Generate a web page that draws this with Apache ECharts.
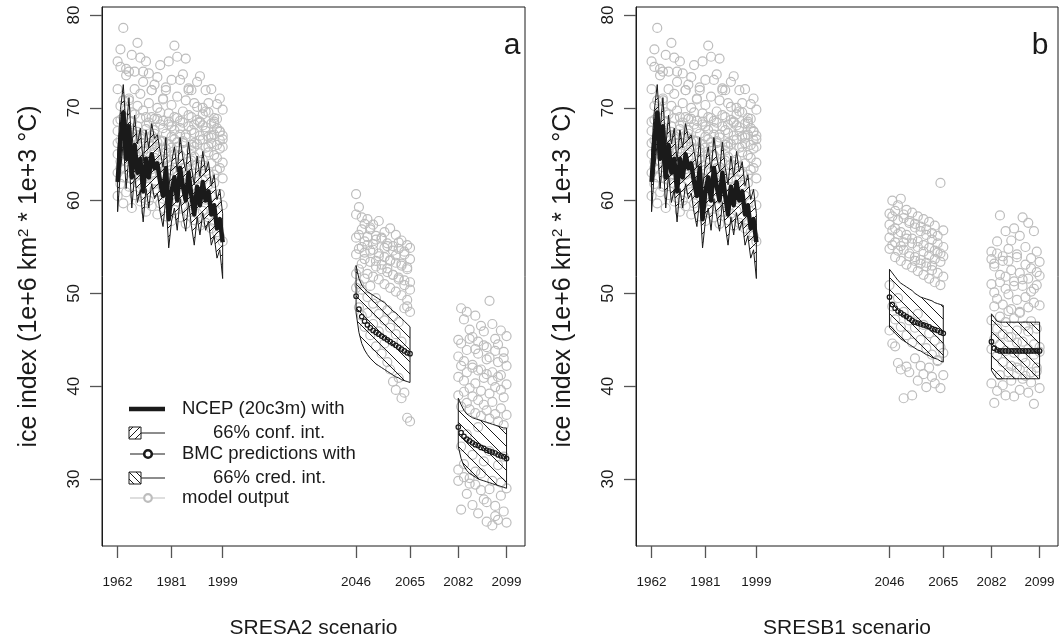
<!DOCTYPE html>
<html>
<head>
<meta charset="utf-8">
<script src="https://cdn.jsdelivr.net/npm/echarts@6/dist/echarts.min.js"></script>
<style>html,body{margin:0;padding:0;background:#fff}#c{width:1059px;height:639px}</style>
</head>
<body>
<div id="c"></div>
<script>
// ---------------- DATA ----------------
const histYears = [1962,1963,1964,1965,1966,1967,1968,1969,1970,1971,1972,1973,1974,1975,1976,1977,1978,1979,1980,1981,1982,1983,1984,1985,1986,1987,1988,1989,1990,1991,1992,1993,1994,1995,1996,1997,1998,1999];
const midYears = [2046,2047,2048,2049,2050,2051,2052,2053,2054,2055,2056,2057,2058,2059,2060,2061,2062,2063,2064,2065];
const endYears = [2082,2083,2084,2085,2086,2087,2088,2089,2090,2091,2092,2093,2094,2095,2096,2097,2098,2099];
const xTickYears = [1962,1981,1999,2046,2065,2082,2099];
const yTicks = [30,40,50,60,70,80];
const xTitles = ['SRESA2 scenario','SRESB1 scenario'];
const panelLetters = ['a','b'];
const yTitle = 'ice index (1e+6 km{sup|2} * 1e+3 °C)';

// NCEP reanalysis ice index with 66% confidence interval
const ncep   = [62.0,66.5,69.5,64.5,68.0,62.5,66.0,63.0,64.5,61.0,64.5,62.5,65.0,63.5,64.0,62.0,60.5,63.5,58.0,61.0,62.5,60.0,63.5,61.5,60.0,63.0,60.5,58.5,61.5,59.5,62.0,60.0,61.0,58.5,59.5,57.0,58.0,55.5];
const ncepHi = [65.2,69.8,72.5,67.6,71.1,65.7,69.2,66.1,67.8,64.2,67.6,65.7,68.3,66.7,67.1,65.3,63.6,66.8,61.2,64.1,65.8,63.1,66.8,64.6,63.2,66.3,63.6,61.7,64.8,62.6,65.3,63.1,64.2,61.6,62.8,60.1,61.2,58.6];
const ncepLo = [58.8,63.2,66.3,61.3,64.8,59.2,62.8,59.8,61.2,57.7,61.3,59.2,61.8,60.2,60.8,58.7,57.2,60.3,54.9,57.8,59.2,56.8,60.2,58.3,56.7,59.8,57.3,55.2,58.2,56.3,58.7,56.8,57.8,55.2,56.2,53.8,54.7,51.6];

// model output 20c3m (same in both panels)
const histModels = [
 [75.0,76.3,78.6,74.2,73.9,75.7,72.0,77.0,75.4,73.9,75.0,73.7,71.9,72.5,73.3,74.6,71.0,72.2,75.0,73.0,76.7,75.5,73.0,73.6,75.3,72.1,71.9,70.5,72.8,73.4,70.0,71.9,69.5,72.0,68.5,70.4,71.0,69.8],
 [72.0,74.4,70.8,73.5,71.0,69.5,73.9,70.2,71.5,72.8,69.0,70.5,71.9,68.8,70.0,68.2,70.9,71.9,68.5,70.3,69.0,71.2,67.8,69.6,70.8,71.9,69.0,68.2,70.1,68.5,69.3,67.5,70.5,66.8,68.9,67.8,66.5,67.0],
 [67.5,68.7,66.0,69.8,67.9,68.5,66.8,67.4,68.9,66.2,67.7,68.4,65.9,67.2,68.8,66.5,67.8,65.6,68.2,66.9,67.6,65.8,68.6,66.4,67.1,68.0,65.4,67.3,66.1,68.4,66.6,67.9,65.2,67.0,68.3,66.0,67.4,65.8],
 [65.0,66.5,67.8,64.2,66.0,67.3,65.5,64.8,66.7,65.3,64.1,66.2,67.0,64.6,65.8,64.0,66.4,65.2,63.8,65.7,64.5,66.3,64.9,63.5,65.4,64.2,66.0,64.7,63.9,65.1,64.4,63.2,65.8,64.0,62.8,64.6,63.5,62.4],
 [63.0,64.2,62.5,65.1,63.6,62.3,64.0,63.2,61.8,63.9,62.6,61.5,63.4,62.1,60.9,62.8,63.5,61.2,62.4,60.6,62.0,63.1,61.0,61.9,62.7,60.4,61.6,62.9,60.8,61.4,62.2,60.1,61.7,60.5,61.9,59.8,60.7,59.5],
 [60.5,61.8,59.7,60.9,61.5,59.2,60.6,61.9,59.9,60.3,58.8,60.0,59.4,61.2,58.5,59.7,60.2,58.3,59.6,57.8,59.0,59.9,58.2,59.3,57.5,58.8,59.5,57.9,58.6,57.3,58.9,57.6,58.2,57.0,57.7,56.6,56.2,55.6],
 [68.5,70.2,69.0,67.2,70.8,66.9,69.3,68.0,67.0,69.7,68.1,66.7,69.0,67.6,66.3,69.5,68.6,67.2,69.4,68.0,66.6,68.9,67.1,68.4,66.8,69.2,67.6,66.2,68.7,67.0,68.1,69.6,66.9,68.3,67.1,68.8,67.5,66.6],
 [66.2,63.5,65.4,66.8,64.7,65.9,63.1,66.0,64.4,67.1,65.6,64.3,62.8,65.2,63.7,66.4,62.9,64.5,66.1,63.3,65.0,62.6,64.8,66.2,63.6,62.9,64.3,65.8,62.4,66.5,63.8,65.7,62.9,66.2,64.9,63.3,65.6,64.1]
];

// SRESA2 model output
const a2MidModels = [
 [60.7,59.3,58.2,57.5,58.0,56.9,57.4,56.2,57.8,55.9,56.6,55.4,57.0,55.1,56.3,54.8,55.7,54.5,55.2,54.9],
 [58.5,56.3,56.9,55.6,55.2,57.1,54.7,55.8,54.3,56.0,53.9,55.1,53.6,54.6,53.3,55.5,53.0,54.2,52.8,53.7],
 [56.0,54.8,55.0,53.7,56.1,53.4,55.3,52.9,54.0,52.6,54.9,52.3,53.5,52.0,54.1,51.7,53.2,51.4,52.6,51.2],
 [54.2,52.6,53.2,54.4,52.1,54.6,51.8,53.5,51.5,53.1,51.0,52.7,50.6,52.0,50.2,51.5,49.8,50.9,49.3,50.4],
 [52.1,51.0,50.4,51.6,49.6,50.8,48.9,49.5,47.8,48.7,47.1,48.2,46.3,47.5,45.6,46.9,44.8,48.4,48.6,48.0],
 [50.6,48.5,47.6,46.4,47.9,45.5,46.7,44.3,45.9,43.5,44.6,42.6,41.8,40.5,39.6,40.9,38.7,39.3,36.6,36.2]
];
const a2EndModels = [
 [45.0,48.4,47.2,48.0,46.1,45.3,47.6,44.8,46.5,45.9,44.2,49.2,46.7,45.1,44.5,46.0,43.7,45.4],
 [43.2,44.6,42.7,43.9,45.1,42.3,44.0,43.5,41.8,44.4,42.9,43.1,41.5,43.8,42.6,41.2,43.0,42.2],
 [41.0,42.2,40.6,41.5,39.8,42.0,40.3,41.7,39.5,40.9,41.3,39.2,40.6,39.9,41.0,39.6,38.8,40.2],
 [39.0,37.8,39.4,38.2,37.5,38.9,37.1,38.5,36.8,38.0,37.4,36.5,38.3,37.0,36.2,37.6,35.8,36.9],
 [31.0,33.5,30.2,34.8,29.5,32.6,30.8,35.6,28.8,31.9,27.5,33.0,29.8,26.0,31.5,28.2,32.4,29.0],
 [29.8,26.7,31.6,28.4,30.1,27.2,29.4,26.3,30.6,27.8,25.4,28.9,25.0,27.1,25.6,29.6,26.5,25.3]
];
// SRESB1 model output
const b1MidModels = [
 [58.6,60.0,58.9,59.5,60.2,58.1,59.0,57.8,58.7,57.5,58.3,57.2,58.0,56.9,57.7,56.5,57.3,56.2,61.9,56.8],
 [57.4,58.3,57.0,57.9,56.6,58.5,56.3,57.6,55.9,57.1,55.6,56.7,55.2,56.3,54.9,55.8,54.6,55.4,54.3,55.0],
 [56.0,56.8,55.5,56.4,55.1,54.7,55.9,54.3,55.4,53.9,55.0,53.6,54.5,53.3,54.1,53.0,53.7,54.4,53.4,54.0],
 [54.8,55.2,53.9,54.6,53.5,55.5,53.1,54.0,52.8,53.5,52.4,53.2,52.0,52.9,51.6,52.5,51.2,52.2,50.9,51.8],
 [50.9,48.6,47.2,49.5,46.4,48.0,45.5,47.1,44.7,46.3,47.8,45.0,46.6,44.1,45.7,43.4,44.9,42.8,44.2,43.6],
 [46.0,44.6,44.3,42.5,41.8,38.7,42.1,41.5,39.0,43.0,40.6,42.2,41.3,39.9,42.0,41.0,40.3,42.7,39.8,41.2]
];
const b1EndModels = [
 [54.5,53.2,55.6,58.4,54.0,56.7,53.5,55.7,57.0,54.2,56.2,58.2,55.0,57.6,53.8,56.7,54.5,53.4],
 [53.7,52.9,54.3,52.0,53.5,51.8,54.8,52.5,51.3,53.9,52.2,50.8,53.1,51.6,52.7,50.5,52.3,51.9],
 [51.0,50.1,49.4,51.2,48.8,50.5,49.9,48.3,50.8,49.3,48.0,51.5,49.6,48.5,50.2,49.0,50.9,48.7],
 [47.1,48.6,46.2,47.5,45.6,46.9,48.1,45.3,47.3,46.0,47.9,44.8,46.5,45.9,47.0,44.5,46.2,44.2],
 [44.0,45.1,43.3,44.5,42.6,43.8,45.3,42.2,43.6,44.7,41.8,43.1,42.5,44.0,41.5,43.4,42.0,43.7],
 [40.3,38.2,39.5,41.2,40.1,39.0,41.5,40.6,38.9,42.0,39.6,40.8,41.1,39.3,40.4,38.1,41.6,39.8]
];

// BMC predictions with 66% credible intervals
const a2MidBmc = [49.7,48.3,47.5,47.0,46.6,46.3,46.0,45.8,45.6,45.4,45.2,45.0,44.8,44.6,44.4,44.2,44.0,43.8,43.6,43.5];
const a2MidHi  = [53.0,51.6,50.9,50.5,50.2,50.0,49.8,49.6,49.4,49.2,49.0,48.7,48.4,48.1,47.9,47.6,47.3,47.0,46.7,46.4];
const a2MidLo  = [47.9,45.8,44.6,43.9,43.4,43.0,42.7,42.4,42.2,42.0,41.8,41.6,41.4,41.2,41.0,40.9,40.7,40.6,40.5,40.4];
const a2EndBmc = [35.6,35.0,34.6,34.3,34.1,33.9,33.7,33.6,33.4,33.3,33.1,33.0,32.9,32.8,32.6,32.5,32.4,32.2];
const a2EndHi  = [38.7,38.0,37.4,37.0,36.8,36.6,36.5,36.4,36.3,36.2,36.1,36.0,35.9,35.8,35.7,35.6,35.5,35.5];
const a2EndLo  = [33.5,32.2,31.4,30.9,30.6,30.4,30.2,30.0,29.9,29.8,29.7,29.6,29.5,29.4,29.3,29.2,29.1,29.0];
const b1MidBmc = [49.6,48.8,48.4,48.1,47.9,47.7,47.5,47.3,47.1,46.9,46.8,46.7,46.6,46.5,46.4,46.2,46.1,46.0,45.8,45.7];
const b1MidHi  = [52.6,52.2,51.8,51.4,51.1,50.9,50.7,50.5,50.3,50.0,49.8,49.6,49.5,49.4,49.3,49.2,49.0,48.9,48.8,48.7];
const b1MidLo  = [46.3,46.0,45.7,45.4,45.1,44.9,44.7,44.5,44.3,44.1,43.9,43.8,43.6,43.4,43.3,43.1,43.0,42.9,42.7,42.6];
const b1EndBmc = [44.8,44.1,43.9,43.8,43.8,43.8,43.8,43.8,43.8,43.8,43.8,43.8,43.8,43.8,43.8,43.8,43.8,43.8];
const b1EndHi  = [47.8,47.4,47.0,46.9,46.9,46.9,46.9,46.9,46.9,46.9,46.9,46.9,46.9,46.9,46.9,46.9,46.9,46.9];
const b1EndLo  = [41.7,41.2,40.8,40.8,40.8,40.8,40.8,40.8,40.8,40.8,40.8,40.8,40.8,40.8,40.8,40.8,40.8,40.8];

const legendLabels = ['NCEP (20c3m) with','66% conf. int.','BMC predictions with','66% cred. int.','model output'];

// ---------------- STYLE ----------------
const FONT = '"Liberation Sans", Arial, Helvetica, sans-serif';
const INK = '#1a1a1a';
const GREY = '#bdbdbd';
const NONE = 'rgba(0,0,0,0)';

function hatch(dir, size) {
  const c = document.createElement('canvas');
  c.width = size; c.height = size;
  const g = c.getContext('2d');
  g.strokeStyle = INK; g.lineWidth = 1;
  g.beginPath();
  if (dir === '/') {
    for (let k = -1; k <= 1; k++) { g.moveTo(k*size, size); g.lineTo(k*size + size, 0); }
  } else {
    for (let k = -1; k <= 1; k++) { g.moveTo(k*size, 0); g.lineTo(k*size + size, size); }
  }
  g.stroke();
  return c;
}
const hatchFwd = hatch('/', 9);
const hatchBack = hatch('\\', 12);

function cloud(years, models) {
  const out = [];
  models.forEach(m => m.forEach((v, i) => out.push([years[i], v])));
  return out;
}
function band(years, lo, hi) { return years.map((y, i) => [y, lo[i], hi[i]]); }
function pts(years, v) { return years.map((y, i) => [y, v[i]]); }

function bandSeries(gi, data, pattern) {
  return {
    type: 'custom', xAxisIndex: gi, yAxisIndex: gi, z: 3, silent: true,
    data: data, encode: { x: 0, y: 1 },
    renderItem: function (params, api) {
      if (params.dataIndex !== 0) return null;
      const up = [], dn = [];
      for (let i = 0; i < data.length; i++) {
        up.push(api.coord([data[i][0], data[i][2]]));
        dn.push(api.coord([data[i][0], data[i][1]]));
      }
      const points = up.concat(dn.reverse());
      return { type: 'polygon', shape: { points: points },
        style: { fill: { image: pattern, repeat: 'repeat' }, stroke: INK, lineWidth: 1 } };
    }
  };
}
function cloudSeries(gi, data) {
  return { type: 'scatter', xAxisIndex: gi, yAxisIndex: gi, z: 1, silent: true,
    symbol: 'circle', symbolSize: 9, data: data,
    itemStyle: { color: NONE, borderColor: GREY, borderWidth: 1.2, opacity: 1 } };
}
function bmcSeries(gi, data) {
  return { type: 'scatter', xAxisIndex: gi, yAxisIndex: gi, z: 5, silent: true,
    symbol: 'circle', symbolSize: 4.5, data: data,
    itemStyle: { color: NONE, borderColor: INK, borderWidth: 1.2, opacity: 1 } };
}

const grids = [
  { left: 102, top: 7, width: 423, height: 539 },
  { left: 636, top: 7, width: 422, height: 539 }
];
const series = [];
const panels = [
  { mid: a2MidModels, end: a2EndModels, midB: [a2MidBmc, a2MidLo, a2MidHi], endB: [a2EndBmc, a2EndLo, a2EndHi] },
  { mid: b1MidModels, end: b1EndModels, midB: [b1MidBmc, b1MidLo, b1MidHi], endB: [b1EndBmc, b1EndLo, b1EndHi] }
];
panels.forEach((p, gi) => {
  series.push(cloudSeries(gi, cloud(histYears, histModels)));
  series.push(cloudSeries(gi, cloud(midYears, p.mid)));
  series.push(cloudSeries(gi, cloud(endYears, p.end)));
  series.push(bandSeries(gi, band(histYears, ncepLo, ncepHi), hatchFwd));
  series.push({ type: 'line', xAxisIndex: gi, yAxisIndex: gi, z: 4, silent: true, showSymbol: false,
    data: pts(histYears, ncep), lineStyle: { color: INK, width: 4.5, join: 'round' } });
  series.push(bandSeries(gi, band(midYears, p.midB[1], p.midB[2]), hatchBack));
  series.push(bandSeries(gi, band(endYears, p.endB[1], p.endB[2]), hatchBack));
  series.push(bmcSeries(gi, pts(midYears, p.midB[0])));
  series.push(bmcSeries(gi, pts(endYears, p.endB[0])));
});

const xAxes = [0, 1].map(gi => ({
  type: 'value', gridIndex: gi, min: 1956.5, max: 2105.5,
  splitLine: { show: false }, axisLine: { show: false },
  axisTick: { show: true, customValues: xTickYears, length: 12, lineStyle: { color: '#555', width: 1.3 } },
  axisLabel: { customValues: xTickYears, margin: 29, fontSize: 13.5, color: INK, fontFamily: FONT,
    formatter: v => String(v) },
  name: xTitles[gi], nameLocation: 'middle', nameGap: 72, nameMoveOverlap: false,
  nameTextStyle: { fontSize: 21, color: INK, fontFamily: FONT }
}));
const yAxes = [0, 1].map(gi => ({
  type: 'value', gridIndex: gi, min: 22.78, max: 80.86,
  splitLine: { show: false },
  axisLine: { show: true, lineStyle: { color: INK, width: 1 } },
  axisTick: { show: true, customValues: yTicks, length: 12, lineStyle: { color: '#555', width: 1.3 } },
  axisLabel: { customValues: yTicks, rotate: 90, margin: 19, fontSize: 17, color: INK, fontFamily: FONT,
    formatter: v => String(v) },
  name: yTitle, nameLocation: 'middle', nameGap: 59, nameRotate: 90, nameMoveOverlap: false,
  nameTextStyle: { fontSize: 25, color: INK, fontFamily: FONT,
    rich: { sup: { fontSize: 15, verticalAlign: 'top', color: INK, fontFamily: FONT, padding: [0, 0, 12, 0] } } }
}));

// legend (drawn in left panel)
const LX = 129, tx = 182, rows = [409, 433, 454, 478, 498];
const legendGraphics = [
  { type: 'line', shape: { x1: LX, y1: rows[0], x2: 165, y2: rows[0] }, style: { stroke: INK, lineWidth: 4.5 } },
  { type: 'rect', shape: { x: LX, y: rows[1] - 6, width: 12, height: 12 }, style: { fill: { image: hatch('/', 7), repeat: 'repeat' }, stroke: INK, lineWidth: 1 } },
  { type: 'line', shape: { x1: LX + 12, y1: rows[1], x2: 165, y2: rows[1] }, style: { stroke: INK, lineWidth: 1 } },
  { type: 'line', shape: { x1: LX + 1, y1: rows[2], x2: 165, y2: rows[2] }, style: { stroke: INK, lineWidth: 1.2 } },
  { type: 'circle', shape: { cx: 148, cy: rows[2], r: 3.8 }, style: { fill: '#fff', stroke: INK, lineWidth: 2.6 } },
  { type: 'rect', shape: { x: LX, y: rows[3] - 6, width: 12, height: 12 }, style: { fill: { image: hatch('\\', 7), repeat: 'repeat' }, stroke: INK, lineWidth: 1 } },
  { type: 'line', shape: { x1: LX + 12, y1: rows[3], x2: 165, y2: rows[3] }, style: { stroke: INK, lineWidth: 1 } },
  { type: 'line', shape: { x1: LX + 1, y1: rows[4], x2: 165, y2: rows[4] }, style: { stroke: GREY, lineWidth: 1.2 } },
  { type: 'circle', shape: { cx: 148, cy: rows[4], r: 3.8 }, style: { fill: '#fff', stroke: GREY, lineWidth: 2.2 } }
];
const legendX = [tx, 213, tx, 213, tx];
legendLabels.forEach((t, i) => legendGraphics.push({
  type: 'text', x: legendX[i], y: rows[i],
  style: { text: t, fill: INK, font: '18.5px ' + FONT, verticalAlign: 'middle' }
}));
const letterGraphics = [
  { type: 'text', x: 512, y: 46, style: { text: panelLetters[0], fill: INK, font: '30px ' + FONT, align: 'center', verticalAlign: 'middle' } },
  { type: 'text', x: 1040, y: 46, style: { text: panelLetters[1], fill: INK, font: '30px ' + FONT, align: 'center', verticalAlign: 'middle' } }
];

const chart = echarts.init(document.getElementById('c'), null, { renderer: 'canvas' });
chart.setOption({
  animation: false,
  backgroundColor: '#fff',
  grid: grids.map(g => Object.assign({ show: true, borderColor: INK, borderWidth: 1, backgroundColor: 'transparent', containLabel: false, outerBoundsMode: 'none' }, g)),
  xAxis: xAxes,
  yAxis: yAxes,
  series: series,
  graphic: legendGraphics.concat(letterGraphics)
});
</script>
</body>
</html>
